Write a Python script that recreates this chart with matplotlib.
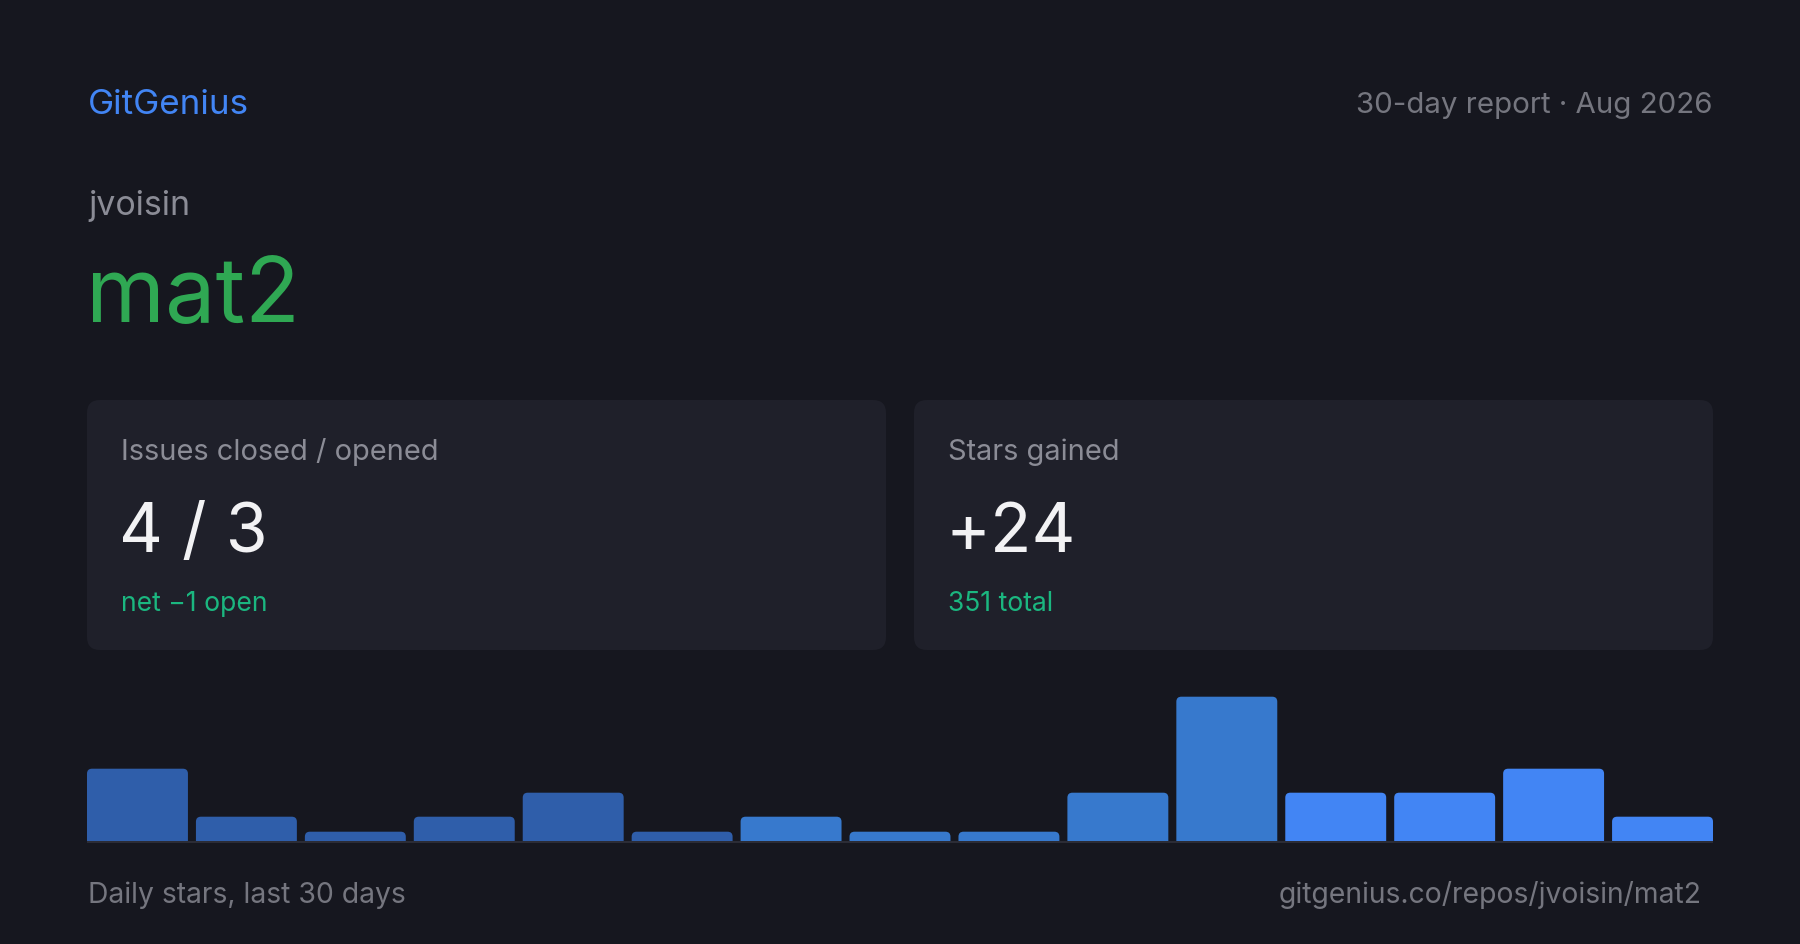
import matplotlib
matplotlib.use("Agg")
import matplotlib.pyplot as plt
from matplotlib.patches import FancyBboxPatch

plt.rcParams['font.family'] = ['Inter', 'DejaVu Sans']

# ---------------- data ----------------
brand = "GitGenius"
report_label = "30-day report · Aug 2026"
owner = "jvoisin"
repo = "mat2"
card_titles = ["Issues closed / opened", "Stars gained"]
card_values = ["4 / 3", "+24"]
card_notes = ["net \u22121 open", "351 total"]
daily_stars = [3, 1, 0, 1, 2, 0, 1, 0, 0, 2, 6, 2, 2, 3, 1]
bar_groups = ["old"] * 6 + ["mid"] * 5 + ["new"] * 4
footer_left = "Daily stars, last 30 days"
footer_right = "gitgenius.co/repos/jvoisin/mat2"

# ---------------- style ----------------
W, H = 1800, 945
BG = "#16171f"
CARD = "#1f202a"
BLUE = "#4285f4"
GREEN = "#2fa853"
TEAL = "#1bb780"
GRAY = "#8b8c96"
GRAY2 = "#75767f"
WHITE = "#f2f2f4"
AXIS = "#2b2c36"
group_colors = {"old": "#2f5eaa", "mid": "#3779cd", "new": "#4285f4"}

def pt(px):
    return px * 0.72

fig = plt.figure(figsize=(W / 100, H / 100), dpi=100, facecolor=BG)
bg = fig.add_axes([0, 0, 1, 1])
bg.set_xlim(0, W)
bg.set_ylim(H, 0)
bg.axis("off")
bg.set_facecolor(BG)

# header
bg.text(88, 114, brand, color=BLUE, fontsize=pt(35), va="baseline", ha="left")
bg.text(1713, 113, report_label, color=GRAY2, fontsize=pt(29.5), va="baseline", ha="right")
bg.text(88, 215, owner, color=GRAY, fontsize=pt(34), va="baseline", ha="left")
bg.text(86, 322, repo, color=GREEN, fontsize=pt(90), va="baseline", ha="left")

# cards
card_x = [87, 914]
card_w = 799
card_top, card_bot = 401, 651
for i in range(2):
    x0 = card_x[i]
    bg.add_patch(FancyBboxPatch((x0, card_top), card_w, card_bot - card_top,
                                boxstyle="round,pad=0,rounding_size=13",
                                facecolor=CARD, edgecolor="none", zorder=1))
    bg.text(x0 + 34, 460, card_titles[i], color=GRAY, fontsize=pt(29),
            va="baseline", ha="left", zorder=2)
    bg.text(x0 + 32, 552, card_values[i], color=WHITE, fontsize=pt(68),
            va="baseline", ha="left", zorder=2)
    bg.text(x0 + 34, 611, card_notes[i], color=TEAL, fontsize=pt(26.5),
            va="baseline", ha="left", zorder=2)

# bars baseline line
bg.plot([87, 1713], [842.7, 842.7], color=AXIS, lw=pt(2), solid_capstyle="butt", zorder=1)

# footer
bg.text(88, 903, footer_left, color=GRAY2, fontsize=pt(28.3), va="baseline", ha="left")
bg.text(1702, 903, footer_right, color=GRAY2, fontsize=pt(28.3), va="baseline", ha="right")

# ---------------- bar chart ----------------
base_px = 841.7
ax_h_px = 200
ax = fig.add_axes([87 / W, (H - base_px) / H, 1626 / W, ax_h_px / H])
ax.set_facecolor("none")
ax.axis("off")
n = len(daily_stars)
bar_px, gap_px = 100.9, 8.0
px_per_unit_x = bar_px + gap_px
px_per_unit_y = 24.0
bar_w = bar_px / px_per_unit_x
ax.set_ylim(0, ax_h_px / px_per_unit_y)
ax.set_xlim(-bar_w / 2, n - 1 + bar_w / 2)
min_px = 9
min_h = min_px / px_per_unit_y
shown = [max(v, min_h) for v in daily_stars]
colors = [group_colors[g] for g in bar_groups]
bars = ax.bar(range(n), shown, width=bar_w, color=colors)
r_px = 5
r_x = r_px / px_per_unit_x
aspect = px_per_unit_x / px_per_unit_y
r_y = r_x * aspect
for rect, c in zip(bars.patches, colors):
    x0, y0 = rect.get_x(), rect.get_y()
    w, h = rect.get_width(), rect.get_height()
    rect.set_visible(False)
    ax.add_patch(FancyBboxPatch((x0, y0 - r_y), w, h + r_y,
                                boxstyle=f"round,pad=0,rounding_size={r_x}",
                                mutation_aspect=aspect,
                                facecolor=c, edgecolor="none", zorder=3))

fig.savefig("out.png", dpi=100, facecolor=BG)
